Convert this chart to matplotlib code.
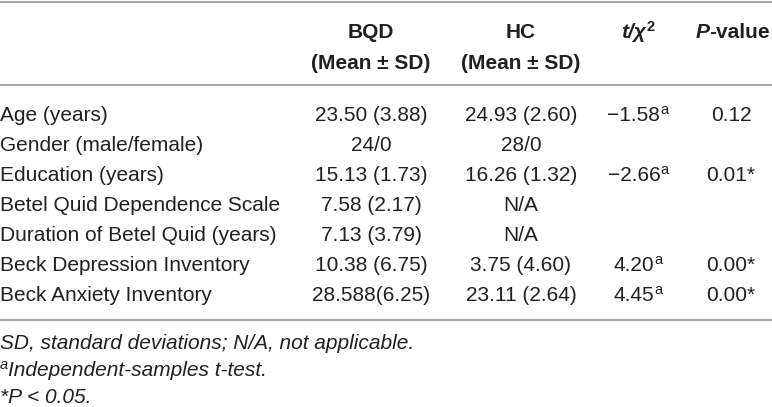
import matplotlib
matplotlib.use("Agg")
import matplotlib.pyplot as plt
from matplotlib.font_manager import FontProperties

row_labels = ["Age (years)", "Gender (male/female)", "Education (years)",
              "Betel Quid Dependence Scale", "Duration of Betel Quid (years)",
              "Beck Depression Inventory", "Beck Anxiety Inventory"]
bqd = ["23.50 (3.88)", "24/0", "15.13 (1.73)", "7.58 (2.17)", "7.13 (3.79)",
       "10.38 (6.75)", "28.588(6.25)"]
hc = ["24.93 (2.60)", "28/0", "16.26 (1.32)", "N/A", "N/A",
      "3.75 (4.60)", "23.11 (2.64)"]
tvals = ["\u22121.58", "", "\u22122.66", "", "", "4.20", "4.45"]
tsup = ["a", "", "a", "", "", "a", "a"]
pvals = ["0.12", "", "0.01*", "", "", "0.00*", "0.00*"]
footnotes = ["SD, standard deviations; N/A, not applicable.",
             "Independent-samples t-test.",
             "*P < 0.05."]
foot_sup = ["", "a", ""]

W, H = 772, 407
fig = plt.figure(figsize=(W / 100, H / 100), dpi=100)
ax = fig.add_axes([0, 0, 1, 1])
ax.set_xlim(0, W)
ax.set_ylim(H, 0)
ax.axis('off')
renderer = fig.canvas.get_renderer()

FAM = ['Liberation Sans', 'DejaVu Sans']
FS = 15
SUP = 10.5
TC = '#231f20'


def fp(size=FS, weight='normal', style='normal'):
    return FontProperties(family=FAM, size=size, weight=weight, style=style)


def runs(x, y, parts, ha='center'):
    """parts: list of (string, FontProperties, raise_px)."""
    arts = []
    for s, prop, dy in parts:
        t = ax.text(0, y - dy, s, fontproperties=prop, color=TC,
                    ha='left', va='baseline')
        arts.append(t)
    widths = [a.get_window_extent(renderer).width for a in arts]
    total = sum(widths)
    if ha == 'center':
        cx = x - total / 2
    elif ha == 'left':
        cx = x
    else:
        cx = x - total
    for a, w in zip(arts, widths):
        a.set_x(cx)
        cx += w
    return arts


lc = '#a6a6a6'
for yl in [1.5, 85, 320]:
    ax.plot([0, W], [yl, yl], color=lc, lw=1.5, solid_capstyle='butt')

xb, xh, xt, xp = 371, 521, 638, 731
bold = fp(weight='bold')
bi = fp(weight='bold', style='italic')

# header
runs(xb, 38, [("BQD", bold, 0)])
runs(xb, 69, [("(Mean \u00b1 SD)", bold, 0)])
runs(xh, 38, [("HC", bold, 0)])
runs(xh, 69, [("(Mean \u00b1 SD)", bold, 0)])
runs(xt, 38, [("t/\u03c7", bi, 0), ("2", fp(SUP, weight='bold'), 7)])
runs(xp + 2, 38, [("P", bi, 0), ("-value", bold, 0)])

reg = fp()
y0, dy = 121, 30
for i, lab in enumerate(row_labels):
    y = y0 + i * dy
    runs(0, y, [(lab, reg, 0)], ha='left')
    runs(xb, y, [(bqd[i], reg, 0)])
    runs(xh, y, [(hc[i], reg, 0)])
    if tvals[i]:
        runs(xt, y, [(tvals[i], reg, 0), (tsup[i], fp(SUP), 7)])
    if pvals[i]:
        runs(xp, y, [(pvals[i], reg, 0)])

it = fp(style='italic')
fy = [349, 376, 403]
for s, sup, yy in zip(footnotes, foot_sup, fy):
    parts = []
    if sup:
        parts.append((sup, fp(SUP, style='italic'), 7))
    parts.append((s, it, 0))
    runs(0, yy, parts, ha='left')

fig.savefig("out.png", dpi=100)
